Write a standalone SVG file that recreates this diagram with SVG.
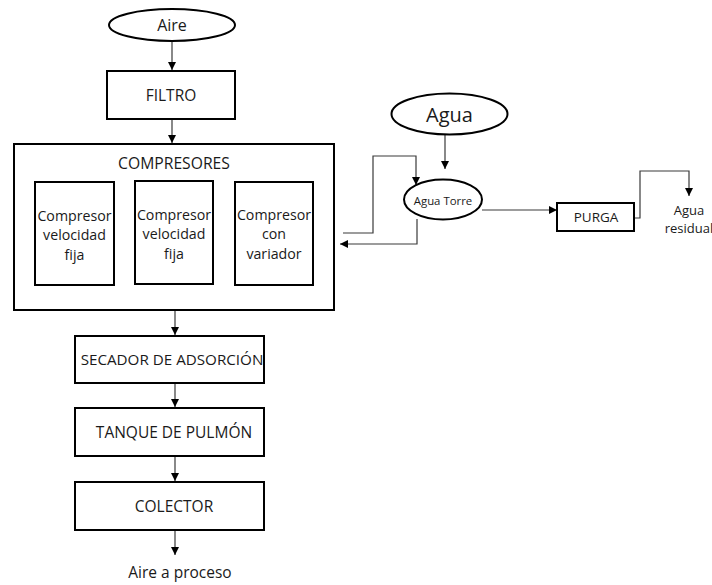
<svg xmlns="http://www.w3.org/2000/svg" width="712" height="585" viewBox="0 0 712 585">
  <style>
    .box { fill: #fff; stroke: #000; stroke-width: 2; }
    .ell { fill: #fff; stroke: #000; stroke-width: 2; }
    .lbl { font-family: "Open Sans", "Liberation Sans", sans-serif; font-size: 15.5px; fill: #1a1a1a; text-anchor: middle; dominant-baseline: central; }
    .sm { font-size: 14.2px; }
    .con { fill: none; stroke: #3a3a3a; stroke-width: 1.2; }
  </style>
  <defs>
    <marker id="arrow" viewBox="0 0 10 10" refX="10" refY="5" markerWidth="8" markerHeight="8" markerUnits="userSpaceOnUse" orient="auto">
      <path d="M0,0 L10,5 L0,10 Z" fill="#000"/>
    </marker>
  </defs>
  <rect width="712" height="585" fill="#fff"/>

  <!-- connectors -->
  <g id="connectors">
    <line class="con" x1="172" y1="42" x2="172" y2="70" marker-end="url(#arrow)"/>
    <line class="con" x1="172" y1="120" x2="172" y2="143" marker-end="url(#arrow)"/>
    <line class="con" x1="114" y1="233" x2="135" y2="233"/>
    <line class="con" x1="213" y1="233" x2="235" y2="233"/>
    <line class="con" x1="175" y1="311" x2="175" y2="335" marker-end="url(#arrow)"/>
    <line class="con" x1="175" y1="384" x2="175" y2="407" marker-end="url(#arrow)"/>
    <line class="con" x1="175" y1="457" x2="175" y2="481" marker-end="url(#arrow)"/>
    <line class="con" x1="175" y1="531" x2="175" y2="555" marker-end="url(#arrow)"/>
    <line class="con" x1="445" y1="135" x2="445" y2="169" marker-end="url(#arrow)"/>
    <polyline class="con" points="343,233 373,233 373,156 416,156 416,185" marker-end="url(#arrow)"/>
    <polyline class="con" points="417,219 417,244 340,244" marker-end="url(#arrow)"/>
    <line class="con" x1="482" y1="210" x2="557" y2="210" marker-end="url(#arrow)"/>
    <polyline class="con" points="634,218 640,218 640,171 689,171 689,196" marker-end="url(#arrow)"/>
  </g>

  <g id="aire">
    <ellipse class="ell" cx="172" cy="25" rx="63" ry="16"/>
    <text class="lbl" x="172" y="25" style="font-size:16px">Aire</text>
  </g>
  <g id="filtro">
    <rect class="box" x="107" y="71" width="128" height="48"/>
    <text class="lbl" x="171" y="95">FILTRO</text>
  </g>
  <g id="compresores">
    <rect class="box" x="14" y="144" width="320" height="166"/>
    <text class="lbl" x="174" y="163" style="font-size:15.7px">COMPRESORES</text>
  </g>
  <g id="compresor-1">
    <rect class="box" x="35" y="182" width="79" height="103"/>
    <text class="lbl sm" x="74.5" y="215">Compresor</text>
    <text class="lbl sm" x="74.5" y="234">velocidad</text>
    <text class="lbl sm" x="74.5" y="254">fija</text>
  </g>
  <g id="compresor-2">
    <rect class="box" x="135" y="181" width="78" height="103"/>
    <text class="lbl sm" x="174" y="214">Compresor</text>
    <text class="lbl sm" x="174" y="233">velocidad</text>
    <text class="lbl sm" x="174" y="253">fija</text>
  </g>
  <g id="compresor-3">
    <rect class="box" x="235" y="182" width="78" height="103"/>
    <text class="lbl sm" x="274" y="214">Compresor</text>
    <text class="lbl sm" x="274" y="233">con</text>
    <text class="lbl sm" x="274" y="253">variador</text>
  </g>
  <g id="secador">
    <rect class="box" x="75" y="336" width="189" height="47"/>
    <text class="lbl" x="172" y="359" style="font-size:15.2px">SECADOR DE ADSORCIÓN</text>
  </g>
  <g id="tanque">
    <rect class="box" x="75" y="408" width="189" height="48"/>
    <text class="lbl" x="174" y="432">TANQUE DE PULMÓN</text>
  </g>
  <g id="colector">
    <rect class="box" x="75" y="482" width="189" height="48"/>
    <text class="lbl" x="174" y="506">COLECTOR</text>
  </g>
  <g id="aire-proceso">
    <text class="lbl" x="180" y="572">Aire a proceso</text>
  </g>
  <g id="agua">
    <ellipse class="ell" cx="449.5" cy="114" rx="58" ry="20.5"/>
    <text class="lbl" x="449.5" y="114" style="font-size:20px">Agua</text>
  </g>
  <g id="agua-torre">
    <ellipse class="ell" cx="443" cy="199.5" rx="39" ry="20"/>
    <text class="lbl" x="443" y="200" style="font-size:11.4px">Agua Torre</text>
  </g>
  <g id="purga">
    <rect class="box" x="557" y="203" width="77" height="28"/>
    <text class="lbl" x="596" y="217" style="font-size:13.5px">PURGA</text>
  </g>
  <g id="agua-residual">
    <text class="lbl" x="689" y="210" style="font-size:13px">Agua</text>
    <text class="lbl" x="689" y="228" style="font-size:13px">residual</text>
  </g>
</svg>
